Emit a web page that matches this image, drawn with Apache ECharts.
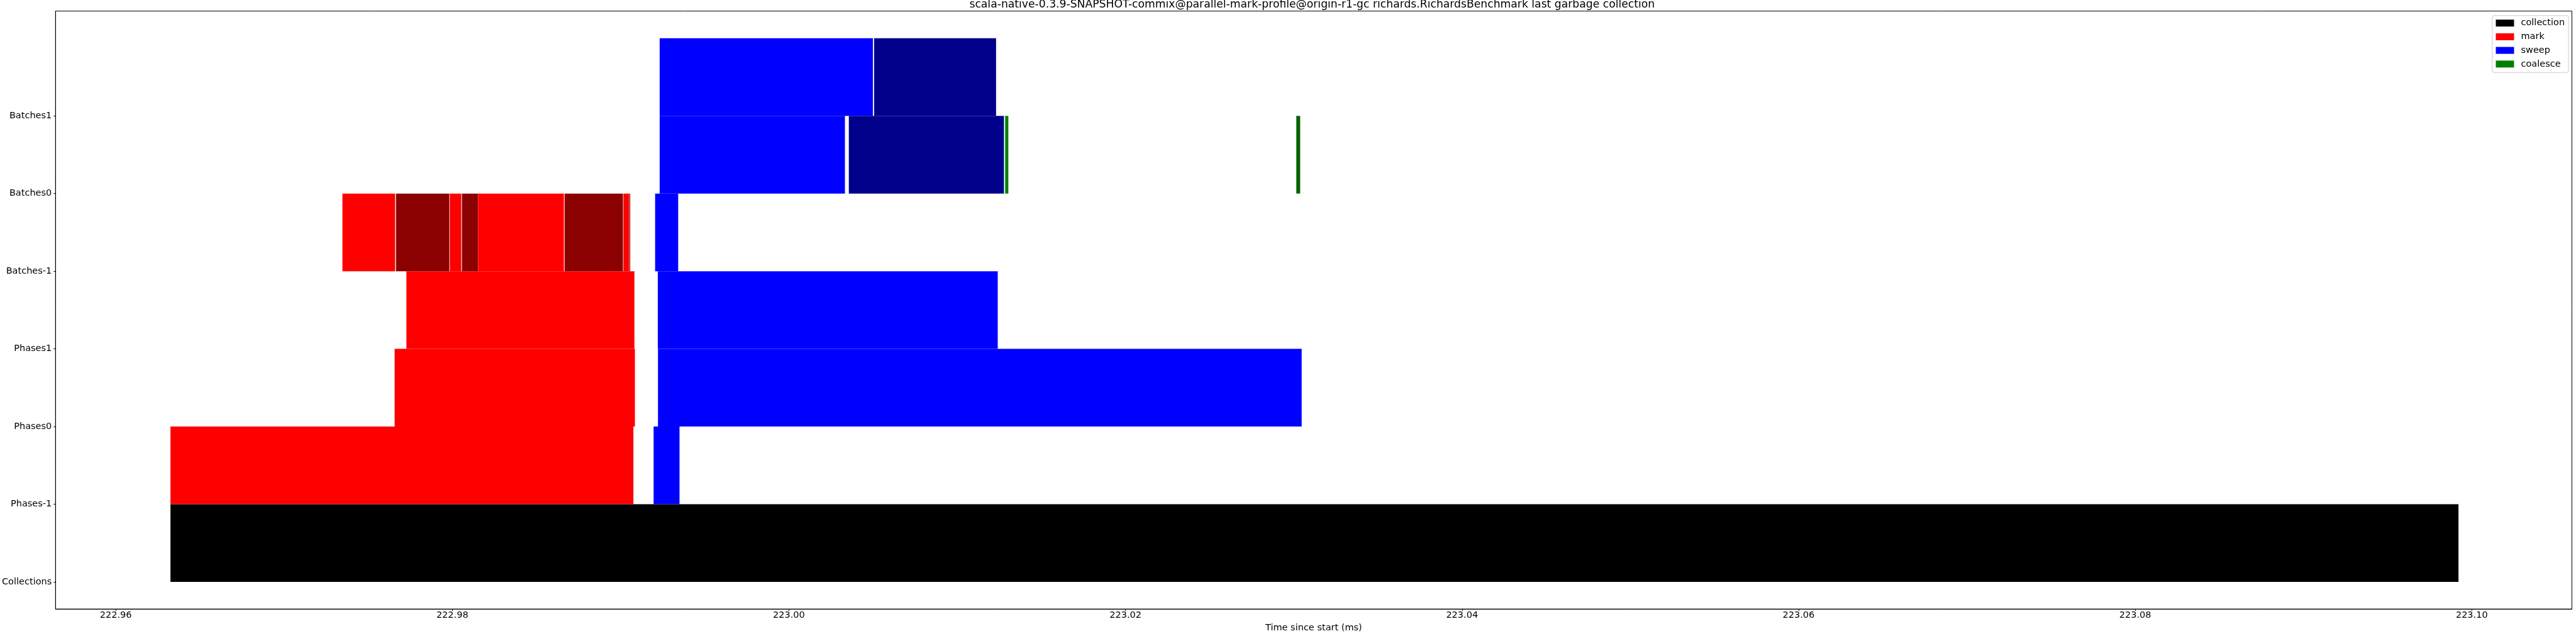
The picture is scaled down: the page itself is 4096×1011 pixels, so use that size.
<!DOCTYPE html>
<html>
<head>
<meta charset="utf-8">
<script src="https://cdn.jsdelivr.net/npm/echarts@6/dist/echarts.min.js"></script>
<style>
html,body{margin:0;padding:0;background:#fff;}
#chart{width:4096px;height:1011px;}
</style>
</head>
<body>
<div id="chart"></div>
<script>
// ---- data ----
const titleText = 'scala-native-0.3.9-SNAPSHOT-commix@parallel-mark-profile@origin-r1-gc richards.RichardsBenchmark last garbage collection';
const xAxisTitle = 'Time since start (ms)';
const rowLabels = ['Collections', 'Phases-1', 'Phases0', 'Phases1', 'Batches-1', 'Batches0', 'Batches1'];
const xTickValues = [222.96, 222.98, 223.00, 223.02, 223.04, 223.06, 223.08, 223.10];
const yTickValues = [0, 1, 2, 3, 4, 5, 6];
const seriesNames = ['collection', 'mark', 'sweep', 'coalesce'];

// [row index, start (ms), end (ms)]
const collectionSpans = [
  [0, 222.96325, 223.09921]
];
const markSpans = [
  [1, 222.96325, 222.99076],
  [2, 222.97657, 222.99085],
  [3, 222.97727, 222.99082],
  [4, 222.97347, 222.97660],
  [4, 222.97665, 222.97982],
  [4, 222.97985, 222.98053],
  [4, 222.98057, 222.98152],
  [4, 222.98153, 222.98663],
  [4, 222.98667, 222.99014],
  [4, 222.99017, 222.99051],
  [4, 222.99053, 222.99057]
];
const sweepSpans = [
  [1, 222.99196, 222.99350],
  [2, 222.99222, 223.03047],
  [3, 222.99221, 223.01241],
  [4, 222.99205, 222.99342],
  [5, 222.99232, 223.00333],
  [5, 223.00356, 223.01278],
  [6, 222.99232, 223.00499],
  [6, 223.00506, 223.01231]
];
const coalesceSpans = [
  [5, 223.01285, 223.01304],
  [5, 223.03015, 223.03038]
];

// ---- styling ----
const palettes = {
  collection: ['#000000', '#000000'],
  mark: ['#ff0000', '#8b0000'],
  sweep: ['#0000ff', '#00008b'],
  coalesce: ['#008000', '#006400']
};
const FONT = 'DejaVu Sans';
const FS = 14.5;

function buildData(spans, pal) {
  const counts = {};
  return spans.map(function (s) {
    const k = s[0];
    counts[k] = (counts[k] || 0);
    const shade = pal[counts[k] % 2];
    counts[k] += 1;
    return { value: [s[0], s[1], s[2]], itemStyle: { color: shade } };
  });
}

function renderItem(params, api) {
  const row = api.value(0);
  const p0 = api.coord([api.value(1), row + 1]);
  const p1 = api.coord([api.value(2), row]);
  return {
    type: 'rect',
    shape: { x: p0[0], y: p0[1], width: p1[0] - p0[0], height: p1[1] - p0[1] },
    style: { fill: api.visual('color') }
  };
}

function mkSeries(name, spans) {
  return {
    type: 'custom',
    name: name,
    renderItem: renderItem,
    encode: { x: [1, 2], y: 0 },
    itemStyle: { color: palettes[name][0] },
    data: buildData(spans, palettes[name]),
    animation: false
  };
}

const chart = echarts.init(document.getElementById('chart'), null, { renderer: 'canvas' });
chart.setOption({
  animation: false,
  backgroundColor: '#ffffff',
  title: {
    text: titleText,
    left: 2086.3,
    top: -0.5,
    padding: 0,
    textAlign: 'center',
    textStyle: { fontFamily: FONT, fontSize: 17.2, fontWeight: 'normal', color: '#000' }
  },
  legend: {
    orient: 'vertical',
    left: 3962.8,
    top: 24.8,
    padding: [4.4, 6, 6, 5.7],
    itemWidth: 29,
    itemHeight: 11,
    itemGap: 6.7,
    icon: 'rect',
    borderColor: '#cccccc',
    borderWidth: 1,
    borderRadius: 3,
    backgroundColor: 'rgba(255,255,255,0.8)',
    data: seriesNames,
    textStyle: { fontFamily: FONT, fontSize: FS, color: '#000', padding: [0, 0, 0, 6] }
  },
  grid: {
    left: 83.1,
    right: 6.5,
    top: 17.6,
    bottom: 37.8,
    show: true,
    borderColor: '#000',
    borderWidth: 1,
    backgroundColor: 'transparent'
  },
  xAxis: {
    type: 'value',
    min: 222.95642,
    max: 223.10595,
    name: xAxisTitle,
    nameLocation: 'middle',
    nameGap: 20,
    nameTextStyle: { fontFamily: FONT, fontSize: FS, color: '#000' },
    axisLine: { show: true, onZero: false, lineStyle: { color: '#000', width: 1 } },
    axisTick: { show: true, length: 3, customValues: xTickValues, lineStyle: { color: '#000', width: 1 } },
    axisLabel: {
      margin: 3,
      customValues: xTickValues,
      formatter: function (v) { return v.toFixed(2); },
      fontFamily: FONT, fontSize: FS, color: '#000'
    },
    splitLine: { show: false }
  },
  yAxis: {
    type: 'value',
    min: -0.35,
    max: 7.35,
    axisLine: { show: true, onZero: false, lineStyle: { color: '#000', width: 1 } },
    axisTick: { show: true, length: 3, customValues: yTickValues, lineStyle: { color: '#000', width: 1 } },
    axisLabel: {
      margin: 6,
      customValues: yTickValues,
      formatter: function (v) { return rowLabels[Math.round(v)]; },
      fontFamily: FONT, fontSize: FS, color: '#000'
    },
    splitLine: { show: false }
  },
  series: [
    mkSeries('collection', collectionSpans),
    mkSeries('mark', markSpans),
    mkSeries('sweep', sweepSpans),
    mkSeries('coalesce', coalesceSpans)
  ]
});
</script>
</body>
</html>
